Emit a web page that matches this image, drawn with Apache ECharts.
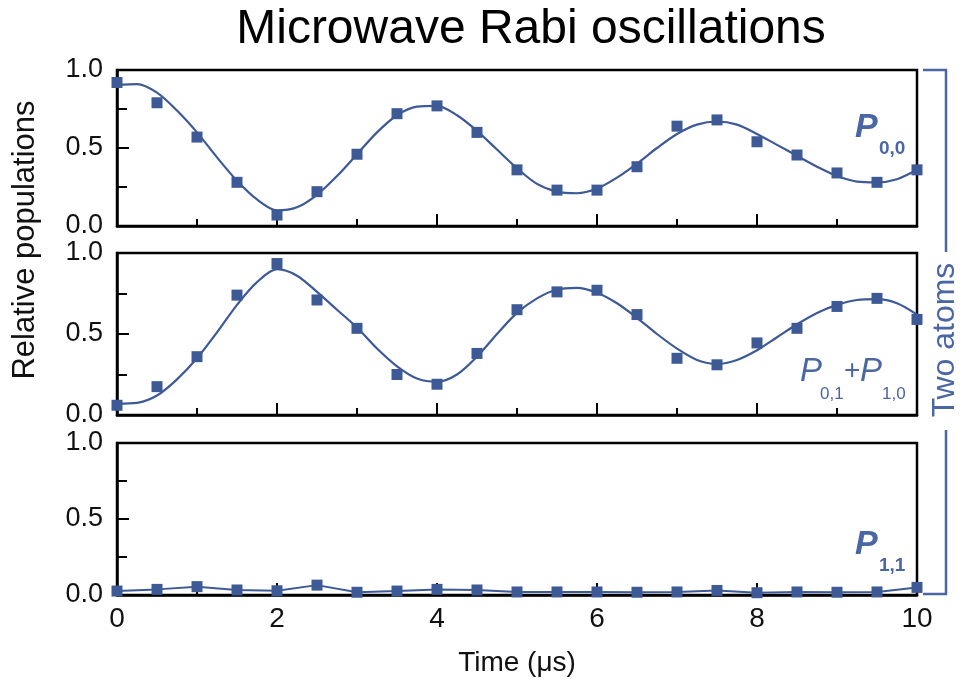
<!DOCTYPE html>
<html><head><meta charset="utf-8">
<script src="https://cdn.jsdelivr.net/npm/echarts@6/dist/echarts.min.js"></script>
<style>html,body{margin:0;padding:0;background:#fff}#c{width:970px;height:684px}</style>
</head><body><div id="c"></div>
<script>
// Measured times (µs)
const times = [0,0.5,1,1.5,2,2.5,3,3.5,4,4.5,5,5.5,6,6.5,7,7.5,8,8.5,9,9.5,10];
// P0,0 data points
const p00 = [0.92,0.79,0.57,0.28,0.07,0.22,0.46,0.72,0.77,0.60,0.36,0.23,0.23,0.38,0.64,0.68,0.54,0.455,0.34,0.28,0.36];
// P0,1 + P1,0 data points
const p01p10 = [0.06,0.175,0.36,0.74,0.935,0.71,0.535,0.25,0.19,0.38,0.65,0.76,0.77,0.62,0.35,0.31,0.445,0.535,0.67,0.72,0.59];
// P1,1 data points
const p11 = [0.026,0.037,0.055,0.033,0.028,0.065,0.018,0.026,0.037,0.033,0.02,0.02,0.02,0.018,0.02,0.03,0.015,0.02,0.018,0.02,0.05];
// Fit curves
const fitTimes = [0,0.25,0.5,0.75,1,1.25,1.5,1.75,2,2.25,2.5,2.75,3,3.25,3.5,3.75,4,4.25,4.5,4.75,5,5.25,5.5,5.75,6,6.25,6.5,6.75,7,7.25,7.5,7.75,8,8.25,8.5,8.75,9,9.25,9.5,9.75,10];
const fitP00 = [0.905,0.91,0.855,0.74,0.60,0.44,0.29,0.17,0.10,0.12,0.20,0.32,0.46,0.60,0.71,0.765,0.77,0.71,0.61,0.49,0.37,0.27,0.22,0.21,0.24,0.31,0.40,0.50,0.59,0.65,0.67,0.65,0.59,0.52,0.45,0.38,0.32,0.285,0.28,0.30,0.36];
const fitP01 = [0.07,0.075,0.12,0.22,0.35,0.51,0.68,0.82,0.90,0.86,0.76,0.65,0.54,0.41,0.30,0.225,0.205,0.25,0.36,0.50,0.63,0.72,0.775,0.785,0.755,0.69,0.60,0.50,0.41,0.34,0.315,0.34,0.40,0.48,0.56,0.63,0.68,0.71,0.715,0.69,0.62];
const xTickLabels = ['0','2','4','6','8','10'];
const yTickLabels = ['0.0','0.5','1.0'];

const BLUE = '#3d5a96';
const TXTBLUE = '#4a66a3';
const FONT = '"Liberation Sans", Arial, Helvetica, sans-serif';

const pairs = (xs, ys) => xs.map((x, i) => [x, ys[i]]);

const gridDefs = [
  {left: 117, width: 800, top: 70, height: 156},
  {left: 117, width: 800, top: 253, height: 162},
  {left: 117, width: 800, top: 443, height: 152}
];

const chart = echarts.init(document.getElementById('c'), null, {renderer: 'canvas'});

const xAxes = gridDefs.map((g, i) => ({
  type: 'value', gridIndex: i, min: 0, max: 10, interval: 2,
  axisLine: {show: true, onZero: false, lineStyle: {color: '#000', width: 2.5}},
  axisTick: {show: true, inside: true, length: 12, lineStyle: {color: '#000', width: 2}},
  minorTick: {show: true, splitNumber: 2, length: 7, lineStyle: {color: '#000', width: 2}},
  splitLine: {show: false},
  axisLabel: {
    show: i === 2, fontSize: 28, color: '#111', fontFamily: FONT, margin: 10,
    formatter: v => xTickLabels[Math.round(v / 2)] ?? ''
  },
  name: i === 2 ? 'Time (μs)' : '',
  nameLocation: 'middle', nameGap: 54,
  nameTextStyle: {fontSize: 28, color: '#111', fontFamily: FONT}
}));

const yAxes = gridDefs.map((g, i) => ({
  type: 'value', gridIndex: i, min: 0, max: 1, interval: 0.5,
  axisLine: {show: true, onZero: false, lineStyle: {color: '#000', width: 2.5}},
  axisTick: {show: true, inside: true, length: 12, lineStyle: {color: '#000', width: 2}},
  minorTick: {show: true, splitNumber: 2, length: 10, lineStyle: {color: '#000', width: 2}},
  splitLine: {show: false},
  axisLabel: {
    fontSize: 27, color: '#111', fontFamily: FONT, margin: 14,
    formatter: v => yTickLabels[Math.round(v * 2)] ?? ''
  }
}));

const option = {
  backgroundColor: '#fff',
  animation: false,
  grid: gridDefs.map(g => Object.assign({show: true, borderColor: '#000', borderWidth: 2.5, backgroundColor: 'transparent'}, g)),
  xAxis: xAxes,
  yAxis: yAxes,
  series: [
    {type: 'line', xAxisIndex: 0, yAxisIndex: 0, data: pairs(fitTimes, fitP00), smooth: 0.3, showSymbol: false,
     lineStyle: {color: BLUE, width: 2.2}, z: 3},
    {type: 'scatter', xAxisIndex: 0, yAxisIndex: 0, data: pairs(times, p00), symbol: 'rect', symbolSize: 11,
     itemStyle: {color: BLUE, opacity: 1}, z: 4},
    {type: 'line', xAxisIndex: 1, yAxisIndex: 1, data: pairs(fitTimes, fitP01), smooth: 0.3, showSymbol: false,
     lineStyle: {color: BLUE, width: 2.2}, z: 3},
    {type: 'scatter', xAxisIndex: 1, yAxisIndex: 1, data: pairs(times, p01p10), symbol: 'rect', symbolSize: 11,
     itemStyle: {color: BLUE, opacity: 1}, z: 4},
    {type: 'line', xAxisIndex: 2, yAxisIndex: 2, data: pairs(times, p11), symbol: 'rect', symbolSize: 11,
     showAllSymbol: true, lineStyle: {color: BLUE, width: 2}, itemStyle: {color: BLUE, opacity: 1}, z: 3}
  ],
  graphic: [
    {type: 'text', x: 531, y: 30, style: {text: 'Microwave Rabi oscillations', font: '48px ' + FONT, fill: '#000', align: 'center', verticalAlign: 'middle'}},
    {type: 'text', x: 25, y: 240, rotation: Math.PI / 2, style: {text: 'Relative populations', font: '31px ' + FONT, fill: '#111', align: 'center', verticalAlign: 'middle'}},
    // P0,0
    {type: 'text', x: 855, y: 128, style: {text: 'P', font: 'italic bold 34px ' + FONT, fill: TXTBLUE, align: 'left', verticalAlign: 'middle'}},
    {type: 'text', x: 879, y: 149, style: {text: '0,0', font: 'bold 19px ' + FONT, fill: TXTBLUE, align: 'left', verticalAlign: 'middle'}},
    // P0,1 + P1,0
    {type: 'text', x: 800, y: 372, style: {text: 'P', font: 'italic 33px ' + FONT, fill: TXTBLUE, align: 'left', verticalAlign: 'middle'}},
    {type: 'text', x: 820, y: 394, style: {text: '0,1', font: '17px ' + FONT, fill: TXTBLUE, align: 'left', verticalAlign: 'middle'}},
    {type: 'text', x: 844, y: 371, style: {text: '+', font: '28px ' + FONT, fill: TXTBLUE, align: 'left', verticalAlign: 'middle'}},
    {type: 'text', x: 860, y: 372, style: {text: 'P', font: 'italic 33px ' + FONT, fill: TXTBLUE, align: 'left', verticalAlign: 'middle'}},
    {type: 'text', x: 882, y: 394, style: {text: '1,0', font: '17px ' + FONT, fill: TXTBLUE, align: 'left', verticalAlign: 'middle'}},
    // P1,1
    {type: 'text', x: 855, y: 545, style: {text: 'P', font: 'italic bold 34px ' + FONT, fill: TXTBLUE, align: 'left', verticalAlign: 'middle'}},
    {type: 'text', x: 879, y: 566, style: {text: '1,1', font: 'bold 19px ' + FONT, fill: TXTBLUE, align: 'left', verticalAlign: 'middle'}},
    // bracket
    {type: 'polyline', shape: {points: [[923, 70], [946, 70], [946, 252]]}, style: {stroke: TXTBLUE, lineWidth: 2.5, fill: null}},
    {type: 'polyline', shape: {points: [[946, 430], [946, 594], [923, 594]]}, style: {stroke: TXTBLUE, lineWidth: 2.5, fill: null}},
    {type: 'text', x: 945, y: 340, rotation: Math.PI / 2, style: {text: 'Two atoms', font: '32px ' + FONT, fill: TXTBLUE, align: 'center', verticalAlign: 'middle'}}
  ]
};
chart.setOption(option);
</script>
</body></html>
